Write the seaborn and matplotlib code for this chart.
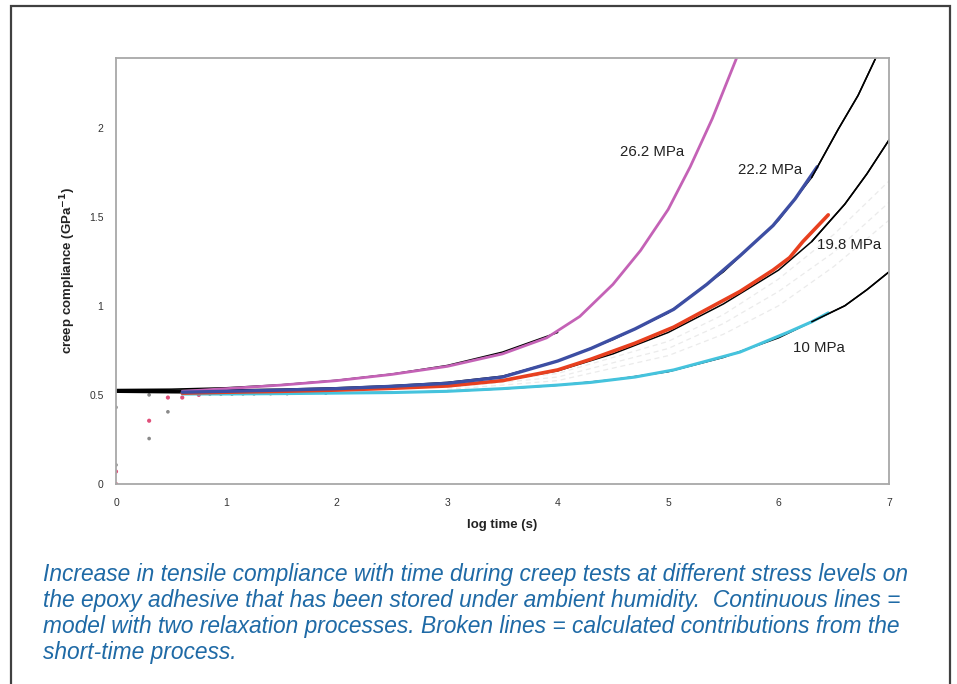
import matplotlib
matplotlib.use("Agg")
import matplotlib.pyplot as plt
import seaborn as sns
from matplotlib.patches import Rectangle

sns.set_theme(style="white")
plt.rcParams['font.family'] = ['Liberation Sans', 'DejaVu Sans']

# measured data (log time in s, compliance in GPa^-1)
x_262 = [0.6, 1.0, 1.5, 2.0, 2.5, 3.0, 3.5, 3.9, 4.2, 4.5, 4.75, 5.0, 5.2, 5.4, 5.62]
y_262 = [0.52, 0.535, 0.555, 0.58, 0.615, 0.66, 0.73, 0.82, 0.94, 1.12, 1.31, 1.54, 1.78, 2.05, 2.39]

x_222 = [0.6, 1.0, 1.5, 2.0, 2.5, 3.0, 3.5, 4.0, 4.3, 4.7, 5.05, 5.35, 5.65, 5.95, 6.15, 6.35]
y_222 = [0.515, 0.52, 0.527, 0.535, 0.548, 0.565, 0.6, 0.69, 0.76, 0.87, 0.98, 1.12, 1.28, 1.45, 1.6, 1.78]

x_198 = [0.6, 1.0, 1.5, 2.0, 2.5, 3.0, 3.5, 4.0, 4.3, 4.7, 5.05, 5.35, 5.65, 5.95, 6.1, 6.22, 6.45]
y_198 = [0.51, 0.515, 0.52, 0.527, 0.537, 0.55, 0.58, 0.64, 0.7, 0.79, 0.88, 0.98, 1.08, 1.2, 1.27, 1.36, 1.51]

x_10 = [0.6, 1.0, 1.5, 2.0, 2.5, 3.0, 3.5, 4.0, 4.3, 4.7, 5.05, 5.35, 5.65, 6.08, 6.3, 6.45]
y_10 = [0.505, 0.505, 0.507, 0.51, 0.513, 0.52, 0.535, 0.555, 0.57, 0.6, 0.64, 0.69, 0.74, 0.85, 0.91, 0.96]

# model curves (two relaxation processes)
mx_262 = [0.0, 0.5, 1.0, 1.5, 2.0, 2.5, 3.0, 3.5, 4.0]
my_262 = [0.53, 0.532, 0.54, 0.557, 0.582, 0.617, 0.665, 0.74, 0.85]

mx_222 = [0.0, 0.5, 1.0, 1.5, 2.0, 2.5, 3.0, 3.5, 4.0, 4.5, 5.0, 5.5, 6.0, 6.3, 6.54, 6.72, 6.88]
my_222 = [0.525, 0.526, 0.528, 0.532, 0.54, 0.552, 0.57, 0.605, 0.69, 0.81, 0.96, 1.19, 1.48, 1.72, 1.99, 2.18, 2.39]

mx_198 = [0.0, 0.5, 1.0, 1.5, 2.0, 2.5, 3.0, 3.5, 4.0, 4.5, 5.0, 5.5, 6.0, 6.3, 6.6, 6.8, 7.0]
my_198 = [0.52, 0.52, 0.521, 0.524, 0.53, 0.54, 0.553, 0.58, 0.635, 0.73, 0.85, 1.01, 1.2, 1.36, 1.57, 1.74, 1.93]

mx_10 = [0.0, 0.5, 1.0, 1.5, 2.0, 2.5, 3.0, 3.5, 4.0, 4.5, 5.0, 5.5, 6.0, 6.3, 6.6, 6.8, 7.0]
my_10 = [0.515, 0.512, 0.51, 0.51, 0.511, 0.514, 0.52, 0.534, 0.554, 0.585, 0.63, 0.71, 0.82, 0.91, 1.0, 1.09, 1.19]

# short-time process contributions (broken lines)
sx = [3.0, 4.0, 5.0, 5.5, 6.0, 6.5, 7.0]
sy_a = [0.55, 0.62, 0.8, 0.95, 1.15, 1.4, 1.7]
sy_b = [0.54, 0.6, 0.76, 0.9, 1.08, 1.3, 1.58]
sy_c = [0.53, 0.58, 0.72, 0.84, 1.0, 1.22, 1.48]

# initial loading points
px_pink = [0.0, 0.0, 0.3, 0.47, 0.6, 0.75]
py_pink = [0.0, 0.07, 0.355, 0.485, 0.485, 0.5]
px_grey = [0.0, 0.0, 0.3, 0.3, 0.47, 0.85, 0.95, 1.05, 1.15, 1.25, 1.4, 1.55, 1.9]
py_grey = [0.107, 0.43, 0.255, 0.5, 0.405, 0.505, 0.505, 0.505, 0.506, 0.506, 0.507, 0.507, 0.51]

labels = ["26.2 MPa", "22.2 MPa", "19.8 MPa", "10 MPa"]
label_pos = [(4.565, 1.865), (5.63, 1.76), (6.35, 1.34), (6.13, 0.764)]

caption = ["Increase in tensile compliance with time during creep tests at different stress levels on",
           "the epoxy adhesive that has been stored under ambient humidity.  Continuous lines =",
           "model with two relaxation processes. Broken lines = calculated contributions from the",
           "short-time process."]

fig = plt.figure(figsize=(9.57, 6.84), dpi=100)
fig.patch.set_facecolor("white")
ax = fig.add_axes([116/957, 1-484/684, (889-116)/957, (484-58)/684])
ax.set_facecolor("white")

for sy in [sy_a, sy_b, sy_c]:
    sns.lineplot(x=sx, y=sy, ax=ax, color="#ebebeb", lw=0.9, linestyle=(0, (4, 3)))

for mx, my in [(mx_262, my_262), (mx_222, my_222), (mx_198, my_198), (mx_10, my_10)]:
    sns.lineplot(x=mx, y=my, ax=ax, color="black", lw=1.1)

sns.lineplot(x=x_262, y=y_262, ax=ax, color="#c462b6", lw=2.0)
sns.lineplot(x=x_10, y=y_10, ax=ax, color="#45c3dd", lw=2.2)
sns.lineplot(x=x_198, y=y_198, ax=ax, color="#e8401f", lw=2.6)
sns.lineplot(x=x_222, y=y_222, ax=ax, color="#3d4ea3", lw=2.4)

# black tails beyond the data
sns.lineplot(x=mx_222[-4:], y=my_222[-4:], ax=ax, color="black", lw=1.1)
sns.lineplot(x=mx_198[-4:], y=my_198[-4:], ax=ax, color="black", lw=1.1)
sns.lineplot(x=mx_10[-4:], y=my_10[-4:], ax=ax, color="black", lw=1.1)

sns.scatterplot(x=px_grey, y=py_grey, ax=ax, color="#8a8a8a", s=7, edgecolor="none")
sns.scatterplot(x=px_pink, y=py_pink, ax=ax, color="#e0507a", s=9, edgecolor="none")

for lab, (lx, ly) in zip(labels, label_pos):
    ax.text(lx, ly, lab, fontsize=10.8, color="#222222", ha="left", va="center")

ax.set_xlim(0, 7)
ax.set_ylim(0, 2.39)
ax.set_xticks(range(0, 8))
ax.set_yticks([0, 0.5, 1, 1.5, 2])
ax.set_yticklabels(["0", "0.5", "1", "1.5", "2"])
ax.tick_params(axis="both", length=0, labelsize=7.5, colors="#333333")
ax.tick_params(axis="x", pad=10)
ax.tick_params(axis="y", pad=9)
for sp in ax.spines.values():
    sp.set_color("#a8a8a8")
    sp.set_linewidth(1.3)

ax.set_xlabel("log time (s)", fontsize=9.5, fontweight="bold", labelpad=8, color="#222222")
ax.set_ylabel("creep compliance (GPa$^{\\mathbf{-1}}$)", fontsize=9.5, fontweight="bold",
              labelpad=8, color="#222222")

for i, line in enumerate(caption):
    fig.text(43/957, 1-(575 + 26*i)/684, line, fontsize=16.4, style="italic",
             color="#1f6aa6", ha="left", va="center")

fig.add_artist(Rectangle((11/957, -0.05), (950-11)/957, 1.05 - 6/684,
                         transform=fig.transFigure, fill=False, edgecolor="#404040", lw=1.6))

fig.savefig("out.png", dpi=100)
